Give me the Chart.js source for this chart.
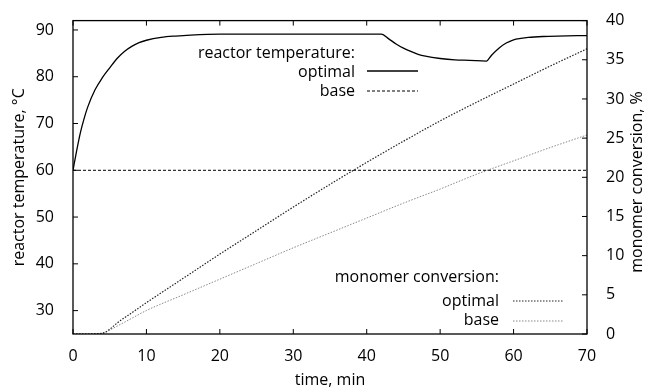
<!DOCTYPE html>
<html>
<head>
<meta charset="utf-8">
<script src="https://cdn.jsdelivr.net/npm/chart.js@4.4.1/dist/chart.umd.min.js"></script>
<style>
  html, body { margin: 0; padding: 0; background: #fff; }
  canvas { display: block; }
</style>
</head>
<body>
<canvas id="reactorChart" width="652" height="392"></canvas>
<script>
// time axis (min) and values
const tempTime = [0, 0.5, 1, 1.5, 2, 3, 4, 5, 6, 7, 8, 9, 10, 12, 14, 16, 20, 25, 30, 35, 40, 42,
    43, 44, 45, 46, 47, 48, 50, 52, 54, 56.3, 57, 58, 59, 60, 61, 62, 64, 66, 70];
const tempOptimal = [60, 64.2, 68.0, 71.0, 73.5, 77.2, 79.8, 81.9, 83.9, 85.4, 86.5, 87.3, 87.8, 88.4, 88.7, 88.9, 89.1, 89.1, 89.1, 89.1, 89.1, 89.1,
    88.1, 87.0, 86.1, 85.4, 84.8, 84.4, 83.9, 83.6, 83.5, 83.35, 84.6, 86.1, 87.2, 87.9, 88.2, 88.4, 88.6, 88.7, 88.8];
const baseTime = [0, 70];
const tempBase = [60, 60];

const convTime = [0, 2, 4, 5, 6, 8, 10, 15, 20, 25, 30, 35, 40, 45, 50, 55, 60, 65, 70];
const convOptimal = [0, 0, 0.1, 0.6, 1.4, 2.7, 4.0, 7.1, 10.2, 13.2, 16.2, 19.1, 21.9, 24.6, 27.2, 29.6, 31.9, 34.2, 36.4];
const convBase = [0, 0, 0.1, 0.5, 1.0, 2.0, 3.0, 5.0, 7.0, 9.0, 11.0, 12.9, 14.8, 16.7, 18.5, 20.4, 22.1, 23.8, 25.4];

const xTicks = [0, 10, 20, 30, 40, 50, 60, 70];
const tempTicks = [30, 40, 50, 60, 70, 80, 90];
const convTicks = [0, 5, 10, 15, 20, 25, 30, 35, 40];

const FONT = 'Open Sans';
const FSIZE = 16;

function pts(xs, ys) {
    return xs.map((x, i) => ({ x: x, y: ys[i] }));
}

// gnuplot-like frame: inward ticks, box, in-plot key, right title
const framePlugin = {
    id: 'frame',
    afterDraw(chart) {
        const ctx = chart.ctx;
        const a = chart.chartArea;
        const sx = chart.scales.x, sl = chart.scales.y, sr = chart.scales.y2;
        const tl = 5;
        ctx.save();
        ctx.strokeStyle = '#000';
        ctx.lineWidth = 1.3;
        ctx.setLineDash([]);
        ctx.strokeRect(a.left, a.top, a.right - a.left, a.bottom - a.top);
        ctx.beginPath();
        xTicks.forEach(v => {
            const px = sx.getPixelForValue(v);
            ctx.moveTo(px, a.bottom); ctx.lineTo(px, a.bottom - tl);
            ctx.moveTo(px, a.top); ctx.lineTo(px, a.top + tl);
        });
        tempTicks.forEach(v => {
            const py = sl.getPixelForValue(v);
            ctx.moveTo(a.left, py); ctx.lineTo(a.left + tl, py);
        });
        convTicks.forEach(v => {
            const py = sr.getPixelForValue(v);
            ctx.moveTo(a.right, py); ctx.lineTo(a.right - tl, py);
        });
        ctx.lineWidth = 1;
        ctx.stroke();

        // keys
        ctx.fillStyle = '#000';
        ctx.font = FSIZE + 'px "' + FONT + '"';
        ctx.textAlign = 'right';
        ctx.textBaseline = 'alphabetic';
        ctx.fillText('reactor temperature:', 355, 58);
        ctx.fillText('optimal', 355, 77);
        ctx.fillText('base', 355, 96);
        ctx.fillText('monomer conversion:', 499, 282);
        ctx.fillText('optimal', 499, 306);
        ctx.fillText('base', 499, 325);

        const keyLine = (x1, x2, y, dash, color, w) => {
            ctx.beginPath();
            ctx.setLineDash(dash);
            ctx.strokeStyle = color;
            ctx.lineWidth = w;
            ctx.moveTo(x1, y); ctx.lineTo(x2, y);
            ctx.stroke();
        };
        keyLine(367, 418, 71, [], '#000', 1.3);
        keyLine(367, 418, 91, [3, 2], '#000', 1);
        keyLine(513, 563, 301, [1.5, 1.5], '#222', 1.2);
        keyLine(513, 563, 321, [1.5, 1.5], '#888', 1);

        // right axis title, reading bottom to top
        ctx.setLineDash([]);
        ctx.translate(637, 182);
        ctx.rotate(-Math.PI / 2);
        ctx.textAlign = 'center';
        ctx.textBaseline = 'middle';
        ctx.fillText('monomer conversion, %', 0, 0);
        ctx.restore();
    }
};

const chart = new Chart(document.getElementById('reactorChart'), {
    type: 'line',
    data: {
        datasets: [
            {
                label: 'temperature optimal',
                data: pts(tempTime, tempOptimal),
                yAxisID: 'y',
                borderColor: '#000',
                borderWidth: 1.3,
                cubicInterpolationMode: 'monotone'
            },
            {
                label: 'temperature base',
                data: pts(baseTime, tempBase),
                yAxisID: 'y',
                borderColor: '#000',
                borderWidth: 1,
                borderDash: [3, 2]
            },
            {
                label: 'conversion optimal',
                data: pts(convTime, convOptimal),
                yAxisID: 'y2',
                borderColor: '#222',
                borderWidth: 1.2,
                borderDash: [1.5, 1.5],
                cubicInterpolationMode: 'monotone'
            },
            {
                label: 'conversion base',
                data: pts(convTime, convBase),
                yAxisID: 'y2',
                borderColor: '#888',
                borderWidth: 1,
                borderDash: [1.5, 1.5],
                cubicInterpolationMode: 'monotone'
            }
        ]
    },
    options: {
        responsive: false,
        animation: false,
        devicePixelRatio: 1,
        layout: { padding: { top: 19, left: 0, right: 0, bottom: 0 } },
        elements: { point: { radius: 0 } },
        plugins: { legend: { display: false }, tooltip: { enabled: false } },
        scales: {
            x: {
                type: 'linear',
                min: 0, max: 70,
                afterBuildTicks: s => { s.ticks = xTicks.map(v => ({ value: v })); },
                afterFit: s => { s.height = 58; },
                grid: { display: false },
                border: { display: false },
                ticks: { color: '#000', padding: 5, maxRotation: 0, font: { family: FONT, size: FSIZE } },
                title: { display: true, text: 'time, min', color: '#000', padding: { top: 0, bottom: 2 }, font: { family: FONT, size: FSIZE } }
            },
            y: {
                position: 'left',
                min: 25, max: 92,
                afterBuildTicks: s => { s.ticks = tempTicks.map(v => ({ value: v })); },
                afterFit: s => { s.width = 73; },
                grid: { display: false },
                border: { display: false },
                ticks: { color: '#000', padding: 11, font: { family: FONT, size: FSIZE } },
                title: { display: true, text: 'reactor temperature, °C', color: '#000', padding: { top: 10, bottom: 0 }, font: { family: FONT, size: FSIZE } }
            },
            y2: {
                position: 'right',
                min: 0, max: 40,
                afterBuildTicks: s => { s.ticks = convTicks.map(v => ({ value: v })); },
                afterFit: s => { s.width = 65; },
                grid: { display: false },
                border: { display: false },
                ticks: { color: '#000', padding: 11, font: { family: FONT, size: FSIZE } }
            }
        }
    },
    plugins: [framePlugin]
});
</script>
</body>
</html>
